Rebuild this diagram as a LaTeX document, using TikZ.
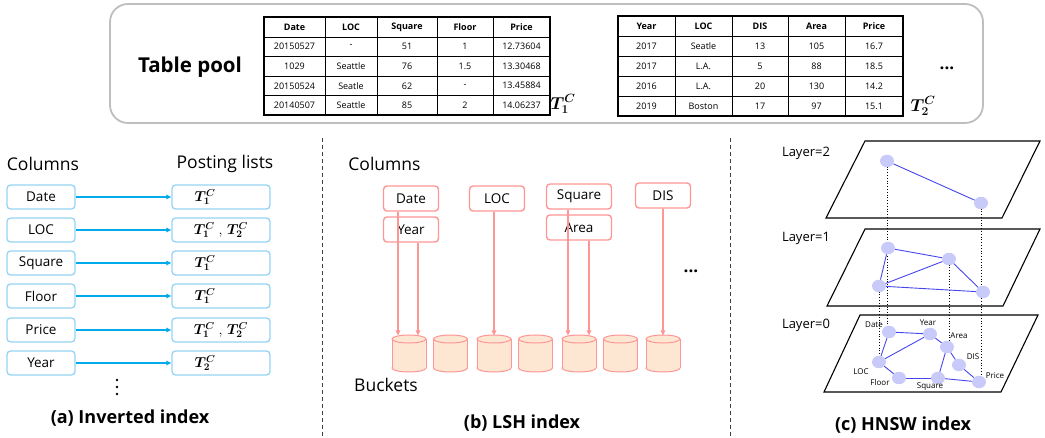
\documentclass[tikz,border=0pt]{standalone}
\usepackage{fontspec}
\setmainfont{Open Sans}
\usepackage{bm}
\usetikzlibrary{arrows.meta,backgrounds,shapes.geometric}
\newcommand\fsz[1]{\fontsize{#1}{#1}\selectfont}
\definecolor{iboxc}{RGB}{150,212,245}
\definecolor{iarrc}{RGB}{0,170,235}
\definecolor{lboxc}{RGB}{255,150,150}
\definecolor{cylf}{RGB}{253,230,210}
\definecolor{hnc}{RGB}{200,202,250}
\definecolor{hec}{RGB}{70,70,235}
\definecolor{poolc}{RGB}{190,190,190}
\begin{document}
\begin{tikzpicture}[x=1pt,y=-1pt,
  cell/.style={font=\fsz{9}, inner sep=0},
  gridl/.style={line width=0.6pt},
  gridb/.style={line width=1.6pt},
  tlab/.style={font=\fsz{17}, inner sep=0},
  plab/.style={font=\fsz{14.5}, inner sep=0},
  big/.style={font=\fsz{17.5}, inner sep=0},
  caption/.style={font=\fsz{18}\bfseries, inner sep=0},
  ibox/.style={draw=iboxc, line width=1.3pt, rounded corners=3.5pt, fill=white, font=\fsz{13.5}, inner sep=0, minimum height=24pt},
  iarr/.style={draw=iarrc, line width=1.5pt, -{Triangle[length=5pt,width=4.5pt]}},
  lbox/.style={draw=lboxc, line width=1.4pt, rounded corners=3.5pt, fill=white, font=\fsz{13.5}, inner sep=0, minimum height=25pt},
  larr/.style={draw=lboxc, line width=1.5pt, -{Triangle[length=5pt,width=4.5pt]}},
  cylb/.style={draw=lboxc, line width=1pt, fill=cylf},
  plane/.style={draw=black, line width=1.1pt},
  hn/.style={ellipse, fill=hnc, draw=none, minimum width=14pt, minimum height=12.5pt, inner sep=0},
  he/.style={draw=hec, line width=0.9pt},
  hdot/.style={draw=black, dotted, line width=0.8pt},
  hlab/.style={font=\fsz{8}, inner sep=0},
  laylab/.style={font=\fsz{13}, inner sep=0},
  sepline/.style={draw=black!75, line width=0.9pt, dash pattern=on 4pt off 3pt}
]
\path[use as bounding box] (0,0) rectangle (1045,438);

% ---------- Table pool ----------
\draw[draw=poolc, line width=1.8pt, rounded corners=18pt] (110,4) rectangle (983,123);
\node[font=\fsz{20.5}\bfseries, inner sep=0] (poolname) at (190,67) {Table pool};

% table 1
\foreach \row [count=\i] in {{Date,LOC,Square,Floor,Price},{20150527,-,51,1,12.73604},{1029,Seattle,76,1.5,13.30468},{20150524,Seatle,62,-,13.45884},{20140507,Seattle,85,2,14.06237}}{
  \foreach \t [count=\j] in \row {
    \pgfmathsetmacro\xx{{294.5,351,407,465,521.5}[\j-1]}
    \pgfmathsetmacro\yy{27+19.6*(\i-1)}
    \node[cell] (ta-\i-\j) at (\xx,\yy) {\ifnum\i=1 \bfseries\fi\t};
  }
}
\foreach \yy in {37,56.6,76.2,95.8} \draw[gridl] (264,\yy) -- (550,\yy);
\foreach \xx in {325,377,437,493} \draw[gridl] (\xx,17) -- (\xx,115);
\draw[gridb] (264,17) rectangle (550,115);
\node[tlab] (t1lab) at (563,104) {$\bm{T_1^C}$};

% table 2
\foreach \row [count=\i] in {{Year,LOC,DIS,Area,Price},{2017,Seatle,13,105,16.7},{2017,L.A.,5,88,18.5},{2016,L.A.,20,130,14.2},{2019,Boston,17,97,15.1}}{
  \foreach \t [count=\j] in \row {
    \pgfmathsetmacro\xx{{646.5,703.5,760,816.5,874}[\j-1]}
    \pgfmathsetmacro\yy{26+20*(\i-1)}
    \node[cell] (tb-\i-\j) at (\xx,\yy) {\ifnum\i=1 \bfseries\fi\t};
  }
}
\foreach \yy in {36,56,76,96} \draw[gridl] (618,\yy) -- (903,\yy);
\foreach \xx in {675,732,788,845} \draw[gridl] (\xx,16) -- (\xx,116);
\draw[gridb] (618,16) rectangle (903,116);
\node[tlab] (t2lab) at (923,106) {$\bm{T_2^C}$};
\node[font=\fsz{17}\bfseries, inner sep=0] (pooldots) at (947,68) {...};

% ---------- separators ----------
\draw[sepline] (322,138) -- (322,438);
\draw[sepline] (730,138) -- (730,438);

% ---------- (a) inverted index ----------
\node[big] (colsA) at (43,164) {Columns};
\node[big] (postA) at (225,164) {Posting lists};
\foreach \n/\y in {Date/197,LOC/230,Square/263,Floor/296,Price/330,Year/363}{
  \node[ibox, minimum width=68pt] (ic-\n) at (41,\y) {\n};
  \node[ibox, minimum width=98pt] (ip-\n) at (221,\y) {};
  \draw[iarr] (ic-\n.east) -- (ip-\n.west);
}
\node[plab] (pl-Date) at (205,197) {$\bm{T_1^C}$};
\node[plab] (pl-LOC) at (221,230) {$\bm{T_1^C}\ ,\,\bm{T_2^C}$};
\node[plab] (pl-Square) at (205,263) {$\bm{T_1^C}$};
\node[plab] (pl-Floor) at (205,296) {$\bm{T_1^C}$};
\node[plab] (pl-Price) at (221,330) {$\bm{T_1^C}\ ,\,\bm{T_2^C}$};
\node[plab] (pl-Year) at (205,363) {$\bm{T_2^C}$};
\foreach \yy in {380,387,394} \fill (117,\yy) circle[radius=1.4pt];
\node[caption] (capA) at (130,418) {(a) Inverted index};

% ---------- (b) LSH index ----------
\node[big] (colsB) at (384.5,164) {Columns};
\foreach \cx [count=\k] in {409,450.5,494,535.5,579,620.5,663}{
  \path[cylb] (\cx,368) ellipse[x radius=17pt, y radius=4pt];
  \fill[cylf] (\cx-17,339) rectangle (\cx+17,368);
  \draw[draw=lboxc, line width=1pt] (\cx-17,339) -- (\cx-17,368) (\cx+17,339) -- (\cx+17,368);
  \path[cylb] (\cx,339) ellipse[x radius=17pt, y radius=4pt];
  \coordinate (b\k) at (\cx,335.5);
}
\node[lbox, minimum width=55pt] (l-Date) at (411,198.5) {Date};
\node[lbox, minimum width=55pt] (l-Year) at (411,229.5) {Year};
\node[lbox, minimum width=55pt] (l-LOC) at (497,198.5) {LOC};
\node[lbox, minimum width=65pt] (l-Square) at (579,196.5) {Square};
\node[lbox, minimum width=65pt] (l-Area) at (579,227.5) {Area};
\node[lbox, minimum width=55pt] (l-DIS) at (663,195.5) {DIS};
\draw[larr] ([xshift=-13pt]l-Date.south) -- ([xshift=-11pt]b1);
\draw[larr] ([xshift=7pt]l-Year.south) -- ([xshift=9pt]b1);
\draw[larr] ([xshift=-3pt]l-LOC.south) -- (b3);
\draw[larr] ([xshift=-11pt]l-Square.south) -- ([xshift=-11pt]b5);
\draw[larr] ([xshift=10pt]l-Area.south) -- ([xshift=10pt]b5);
\draw[larr] (l-DIS.south) -- (b7);
\node[font=\fsz{17}\bfseries, inner sep=0] (lshdots) at (691,271) {...};
\node[big] (bucketsB) at (386,385) {Buckets};
\node[caption] (capB) at (522,423) {(b) LSH index};

% ---------- (c) HNSW index ----------
\draw[plane] (865,141) -- (1040,141) -- (1002,218) -- (826,218) -- cycle;
\draw[plane] (865,229) -- (1040,229) -- (1003,306) -- (827,306) -- cycle;
\draw[plane] (860,315) -- (1038,315) -- (1001,392) -- (824,392) -- cycle;
\node[laylab] (lay2) at (806,153) {Layer=2};
\node[laylab] (lay1) at (806,238) {Layer=1};
\node[laylab] (lay0) at (806,325) {Layer=0};

\node[hn] (l2a) at (887,161) {};
\node[hn] (l2b) at (981,203) {};
\node[hn] (l1a) at (888,248) {};
\node[hn] (l1b) at (949,259) {};
\node[hn] (l1c) at (879,286) {};
\node[hn] (l1d) at (983,292) {};
\node[hn] (z-Date) at (889,332) {};
\node[hn] (z-Year) at (930,334) {};
\node[hn] (z-Area) at (947,347) {};
\node[hn] (z-DIS) at (959,365) {};
\node[hn] (z-Price) at (979,382) {};
\node[hn] (z-Square) at (938,378) {};
\node[hn] (z-Floor) at (899,378) {};
\node[hn] (z-LOC) at (879,362) {};

\begin{scope}[on background layer]
  \draw[hdot] (l2a.center) -- (l2a.center |- z-Date.center);
  \draw[hdot] (l2b.center) -- (l2b.center |- z-Price.center);
  \draw[hdot] (l1c.center) -- (l1c.center |- z-LOC.center);
  \draw[hdot] (l1b.center) -- (l1b.center |- z-Area.center);
\end{scope}

\draw[he] (l2a) -- (l2b);
\draw[he] (l1a) -- (l1b);
\draw[he] (l1a) -- (l1c);
\draw[he] (l1c) -- (l1b);
\draw[he] (l1b) -- (l1d);
\draw[he] (l1c) -- (l1d);
\draw[he] (z-Date) -- (z-Year);
\draw[he] (z-Date) -- (z-LOC);
\draw[he] (z-LOC) -- (z-Year);
\draw[he] (z-Year) -- (z-Area);
\draw[he] (z-Area) -- (z-DIS);
\draw[he] (z-Area) -- (z-Square);
\draw[he] (z-DIS) -- (z-Price);
\draw[he] (z-LOC) -- (z-Floor);
\draw[he] (z-Floor) -- (z-Square);
\draw[he] (z-Square) -- (z-Price);

\node[hlab] (zl-Date) at (874,325) {Date};
\node[hlab] (zl-Year) at (928,323) {Year};
\node[hlab] (zl-Area) at (959,336) {Area};
\node[hlab] (zl-DIS) at (973,357) {DIS};
\node[hlab] (zl-Price) at (995,376) {Price};
\node[hlab] (zl-Square) at (930,387) {Square};
\node[hlab] (zl-Floor) at (880,383) {Floor};
\node[hlab] (zl-LOC) at (861,372) {LOC};
\node[caption] (capC) at (903,425) {(c) HNSW index};
\end{tikzpicture}
\end{document}
